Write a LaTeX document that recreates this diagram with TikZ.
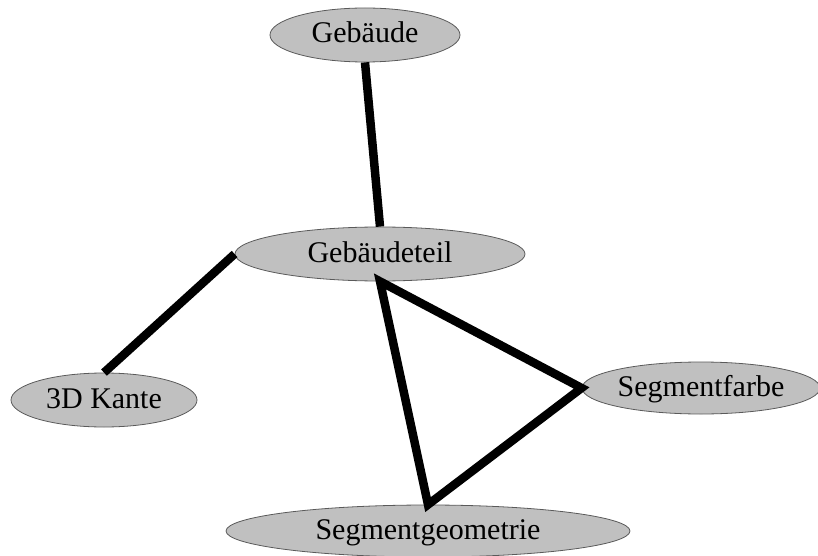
\documentclass[tikz,border=0pt]{standalone}
\usepackage{fontspec}
\setmainfont{Liberation Serif}
\usetikzlibrary{shapes.geometric}
\definecolor{entityfill}{RGB}{192,192,192}
\definecolor{entityline}{RGB}{90,90,90}
\tikzset{
  entity/.style={ellipse, draw=entityline, line width=0.8pt, fill=entityfill,
    inner sep=0pt, text height=16pt, text depth=0pt,
    font=\fontsize{30}{32}\selectfont},
  link/.style={line width=8.5pt, black, line join=miter, line cap=butt}
}
\begin{document}
\begin{tikzpicture}[x=1pt,y=-1pt]
\useasboundingbox (0,0) rectangle (818,556);
\node[entity, minimum width=190pt, minimum height=54pt] (gb) at (365,35) {Gebäude};
\node[entity, minimum width=290pt, minimum height=54pt] (gt) at (380,254) {Gebäudeteil};
\node[entity, minimum width=186pt, minimum height=54pt] (kante) at (104,400) {3D Kante};
\node[entity, minimum width=238pt, minimum height=52pt] (sf) at (701,388) {Segmentfarbe};
\node[entity, minimum width=404pt, minimum height=52pt] (sg) at (428,531) {Segmentgeometrie};
\draw[link] (gb.south) -- (gt.north);
\draw[link] (gt.west) -- (kante.north);
\draw[link] (gt.south) -- (sf.west) -- (sg.north) -- cycle;
\end{tikzpicture}
\end{document}
